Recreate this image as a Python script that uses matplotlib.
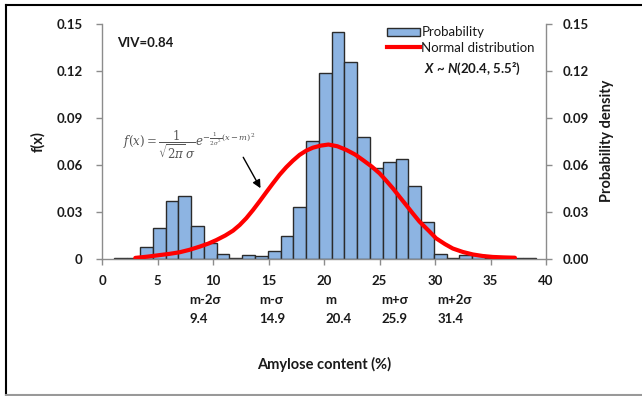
import matplotlib
matplotlib.use("Agg")
import matplotlib.pyplot as plt
from matplotlib.lines import Line2D
from matplotlib.patches import Patch

plt.rcParams["font.family"] = ["Lato", "DejaVu Sans"]
plt.rcParams["mathtext.fontset"] = "custom"
plt.rcParams["mathtext.it"] = "Lato:bold:italic"
plt.rcParams["mathtext.rm"] = "Lato:bold"

# Histogram bins (left edges, width) and probabilities
bin_lefts = [1.12, 2.27, 3.42, 4.57, 5.72, 6.88, 8.03, 9.18, 10.33, 11.48,
             12.63, 13.78, 14.93, 16.08, 17.23, 18.38, 19.54, 20.69, 21.84, 22.99,
             24.14, 25.29, 26.44, 27.59, 28.74, 29.89, 31.05, 32.20, 33.35, 34.50,
             35.65, 36.80, 37.95]
bin_width = 1.15
probability = [0.0006, 0.0006, 0.0074, 0.0192, 0.0365, 0.0399, 0.0211, 0.0098, 0.0032, 0.0006,
               0.0021, 0.0015, 0.0049, 0.0143, 0.0330, 0.0749, 0.1184, 0.1447, 0.1260, 0.0775,
               0.0576, 0.0619, 0.0634, 0.0465, 0.0234, 0.0032, 0.0006, 0.0021, 0.0021, 0.0006,
               0.0006, 0.0006, 0.0006]

# Normal distribution curve
curve_x = [3.0, 4.1, 5.2, 6.1, 7.0, 7.9, 8.8, 9.6, 10.3, 11.1, 11.8, 12.4, 13.0, 13.6, 14.2,
           14.8, 15.4, 16.0, 16.6, 17.2, 17.8, 18.4, 19.0, 19.7, 20.4, 21.2, 22.0, 22.8,
           23.5, 24.3, 25.0, 25.6, 26.2, 26.8, 27.4, 28.0, 28.6, 29.4, 30.1, 30.9, 31.6,
           32.5, 33.4, 34.3, 35.2, 36.2, 37.2]
curve_y = [0.0004, 0.0012, 0.0022, 0.0030, 0.0040, 0.0056, 0.0076, 0.0096, 0.0118, 0.0147,
           0.0178, 0.0214, 0.0258, 0.0310, 0.0366, 0.0424, 0.0481, 0.0536, 0.0584, 0.0626,
           0.0663, 0.0690, 0.0709, 0.0722, 0.0729, 0.0718, 0.0695, 0.0665, 0.0630, 0.0588,
           0.0545, 0.0498, 0.0449, 0.0395, 0.0342, 0.0288, 0.0236, 0.0180, 0.0129, 0.0092,
           0.0064, 0.0042, 0.0026, 0.0016, 0.0010, 0.0007, 0.0005]

sigma_names = ["m-2σ", "m-σ", "m", "m+σ", "m+2σ"]
sigma_values = ["9.4", "14.9", "20.4", "25.9", "31.4"]
sigma_label_x = [7.87, 14.14, 20.1, 25.14, 30.24]

y_ticks = [0, 0.03, 0.06, 0.09, 0.12, 0.15]
left_tick_labels = ["0", "0.03", "0.06", "0.09", "0.12", "0.15"]
right_tick_labels = ["0.00", "0.03", "0.06", "0.09", "0.12", "0.15"]
x_ticks = [0, 5, 10, 15, 20, 25, 30, 35, 40]

text_color = "#1a1a1a"
spine_color = "#8c8c8c"

fig = plt.figure(figsize=(6.42, 3.96), dpi=100)
ax = fig.add_axes([0.1589, 0.3472, 0.6916, 0.5922])

ax.bar(bin_lefts, probability, width=bin_width, align="edge",
       color="#8db4e2", edgecolor="#2b2b2b", linewidth=1.0, zorder=2)
ax.plot(curve_x, curve_y, color="#ff0000", linewidth=3.0, zorder=3,
        solid_capstyle="round", solid_joinstyle="round")

ax.set_xlim(0, 40)
ax.set_ylim(0, 0.15)
ax.set_xticks(x_ticks)
ax.set_xticklabels([str(t) for t in x_ticks])
ax.set_yticks(y_ticks)
ax.set_yticklabels(left_tick_labels)

ax2 = ax.twinx()
ax2.set_ylim(0, 0.15)
ax2.set_yticks(y_ticks)
ax2.set_yticklabels(right_tick_labels)

for a in (ax, ax2):
    a.spines["top"].set_visible(False)
    for s in ("left", "right", "bottom"):
        a.spines[s].set_color(spine_color)
        a.spines[s].set_linewidth(1.0)
    a.tick_params(axis="both", direction="out", length=4, width=1.0,
                  color=spine_color, labelsize=9.5, labelcolor=text_color)
    for lab in a.get_xticklabels() + a.get_yticklabels():
        lab.set_fontweight("bold")
ax.spines["right"].set_visible(False)
ax2.spines["left"].set_visible(False)
ax2.spines["bottom"].set_visible(False)
ax.tick_params(axis="x", pad=8)
ax.tick_params(axis="y", pad=10)
ax2.tick_params(axis="y", pad=8)

ax.set_ylabel("f(x)", fontsize=10.5, fontweight="bold", color=text_color, labelpad=8)
ax2.set_ylabel("Probability density", fontsize=10.5, fontweight="bold", color=text_color, labelpad=8)
ax.set_xlabel("Amylose content (%)", fontsize=10.5, fontweight="bold", color=text_color, labelpad=50)

# sigma markers under the x axis
xt = ax.get_xaxis_transform()
for name, val, xpos in zip(sigma_names, sigma_values, sigma_label_x):
    ax.text(xpos, -0.175, name, transform=xt, ha="left", va="center",
            fontsize=9.5, fontweight="bold", color=text_color)
    ax.text(xpos, -0.26, val, transform=xt, ha="left", va="center",
            fontsize=9.5, fontweight="bold", color=text_color)

ax.text(1.35, 0.138, "VIV=0.84", fontsize=9.5, fontweight="bold",
        color=text_color, va="center", ha="left")

ax.text(1.9, 0.0725, r"$f(x)=\dfrac{1}{\sqrt{2\pi}\,\sigma}e^{-\frac{1}{2\sigma^2}(x-m)^2}$",
        fontsize=8.5, color="#555555", va="center", ha="left", math_fontfamily="dejavuserif")
ax.annotate("", xy=(14.4, 0.0434), xytext=(12.6, 0.0663),
            arrowprops=dict(arrowstyle="-|>", color="black", lw=1.0,
                            mutation_scale=12))

handles = [Patch(facecolor="#8db4e2", edgecolor="#2b2b2b", linewidth=1.0),
           Line2D([], [], color="#ff0000", linewidth=3.0)]
ax.legend(handles, ["Probability", "Normal distribution"], loc="upper left",
          bbox_to_anchor=(0.615, 1.04), frameon=False, fontsize=9.5,
          handlelength=2.5, handleheight=0.6, handletextpad=0.1,
          labelspacing=0.25, labelcolor=text_color)
ax.text(0.725, 0.81, r"$X$ ~ $N$(20.4, 5.5²)", transform=ax.transAxes,
        fontsize=9.5, fontweight="bold", color=text_color,
        va="center", ha="left")

# figure frame
fig.add_artist(Line2D([0.0093, 1.0], [0.988, 0.988], color="black", lw=1.5, transform=fig.transFigure))
fig.add_artist(Line2D([0.0093, 0.0093], [0.0, 0.988], color="black", lw=1.5, transform=fig.transFigure))
fig.add_artist(Line2D([0.0093, 1.0], [0.003, 0.003], color="#999999", lw=1.5, transform=fig.transFigure))

plt.savefig("out.png", dpi=100)
plt.close()
